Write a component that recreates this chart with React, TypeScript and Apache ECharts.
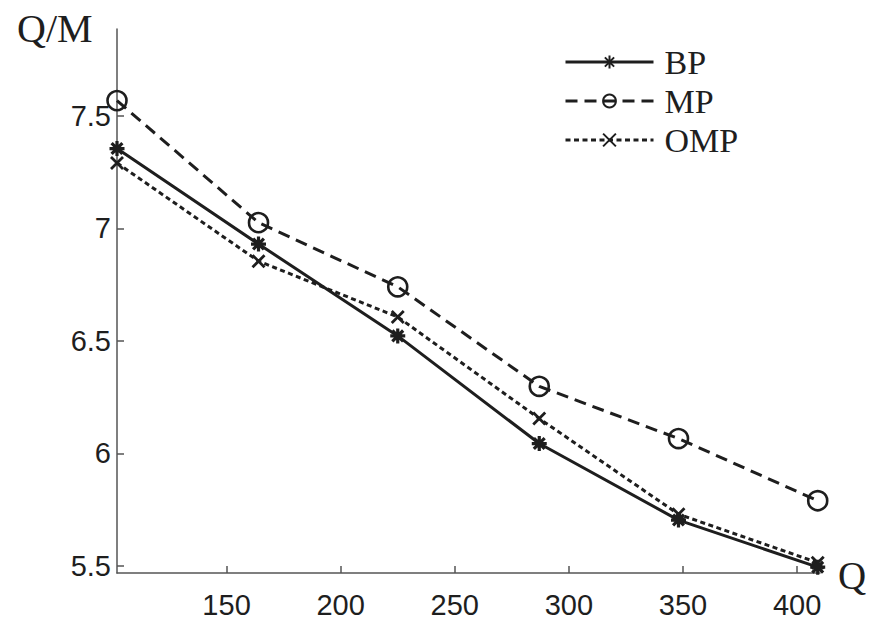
import React, { useEffect, useRef } from "react";
import * as echarts from "echarts";

const qValues = [102, 164, 225, 287, 348, 409];
const bpValues = [7.354, 6.93, 6.522, 6.044, 5.704, 5.495];
const mpValues = [7.567, 7.025, 6.74, 6.298, 6.066, 5.79];
const ompValues = [7.29, 6.854, 6.606, 6.155, 5.73, 5.515];
const xTicks = [150, 200, 250, 300, 350, 400];
const yTicks = [5.5, 6, 6.5, 7, 7.5];
const seriesNames = ["BP", "MP", "OMP"];

const ASTERISK = "path://M0,-1L0,1M-1,0L1,0M-0.72,-0.72L0.72,0.72M-0.72,0.72L0.72,-0.72";
const CROSS = "path://M-1,-1L1,1M-1,1L1,-1";

export default function App() {
  const ref = useRef<HTMLDivElement>(null);
  useEffect(() => {
    document.body.style.margin = "0";
    const chart = echarts.init(ref.current!, null, { renderer: "svg" });
    const ink = "#1e1e1e";
    const axisColor = "#555";
    const pair = (vals: number[]) => vals.map((v, i) => [qValues[i], v]);
    chart.setOption({
      animation: false,
      backgroundColor: "#fff",
      grid: { left: 117, top: 29, right: 50, bottom: 44, containLabel: false },
      legend: {
        left: 559,
        top: 40,
        orient: "vertical",
        itemWidth: 88,
        itemHeight: 16,
        itemGap: 5,
        data: [
          { name: seriesNames[0], lineStyle: { width: 3 } },
          { name: seriesNames[1], lineStyle: { width: 3 } },
          { name: seriesNames[2], lineStyle: { width: 3 } },
        ],
        textStyle: { fontFamily: "Liberation Serif", fontSize: 34, color: ink, lineHeight: 34, padding: [0, 0, 0, 6] },
      },
      xAxis: {
        type: "value",
        min: 102,
        max: 410,
        axisLine: { show: true, lineStyle: { color: axisColor, width: 1.5 } },
        axisTick: { show: true, inside: true, length: 7, customValues: xTicks, lineStyle: { color: axisColor, width: 1.5 } },
        axisLabel: { customValues: xTicks, fontFamily: "Liberation Sans", fontSize: 29, color: ink, margin: 17 },
        splitLine: { show: false },
      },
      yAxis: {
        type: "value",
        min: 5.469,
        max: 7.885,
        axisLine: { show: true, lineStyle: { color: axisColor, width: 1.5 } },
        axisTick: { show: true, inside: true, length: 7, customValues: yTicks, lineStyle: { color: axisColor, width: 1.5 } },
        axisLabel: { customValues: yTicks, fontFamily: "Liberation Sans", fontSize: 29, color: ink, margin: 6 },
        splitLine: { show: false },
      },
      graphic: [
        { type: "text", left: 17, top: 8, style: { text: "Q/M", font: "40px 'Liberation Serif'", fill: ink } },
        { type: "text", left: 838, top: 556, style: { text: "Q", font: "39px 'Liberation Serif'", fill: ink } },
      ],
      series: [
        {
          name: "BP",
          type: "line",
          data: pair(bpValues),
          symbol: ASTERISK,
          symbolSize: 15,
          lineStyle: { color: ink, width: 3, type: "solid" },
          itemStyle: { color: ink, borderColor: ink, borderWidth: 3.2 },
          z: 3,
        },
        {
          name: "MP",
          type: "line",
          data: pair(mpValues),
          symbol: "circle",
          symbolSize: 19,
          lineStyle: { color: ink, width: 3, type: [12, 7] },
          itemStyle: { color: "rgba(255,255,255,0)", borderColor: ink, borderWidth: 2.6 },
          z: 2,
        },
        {
          name: "OMP",
          type: "line",
          data: pair(ompValues),
          symbol: CROSS,
          symbolSize: 12,
          lineStyle: { color: ink, width: 3, type: [5, 3.5] },
          itemStyle: { color: ink, borderColor: ink, borderWidth: 2.8 },
          z: 2,
        },
      ],
    });
    return () => chart.dispose();
  }, []);
  return <div ref={ref} style={{ width: 870, height: 619 }} />;
}
